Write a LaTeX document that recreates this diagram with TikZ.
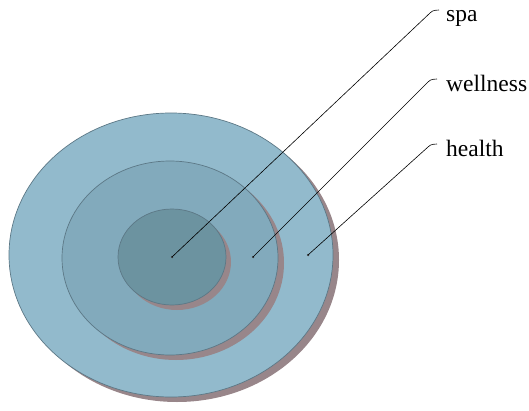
\documentclass[tikz,border=0pt]{standalone}
\usepackage{fontspec}
\setmainfont{Liberation Serif}
\usetikzlibrary{positioning,calc}
\definecolor{ringout}{RGB}{146,186,204}
\definecolor{ringmid}{RGB}{130,170,188}
\definecolor{ringin}{RGB}{108,147,160}
\definecolor{rimline}{RGB}{92,120,134}
\definecolor{shade}{RGB}{152,134,138}
\tikzset{
  ring/.style={draw=rimline,line width=0.7pt},
  ringshadow/.style={fill=shade,draw=none},
  leader/.style={draw=black,line width=0.6pt},
  tag/.style={anchor=west,inner sep=0pt,font=\fontsize{23.5}{28}\selectfont},
  dot/.style={circle,fill=black!80,inner sep=0pt,minimum size=2.5pt}
}
\begin{document}
\begin{tikzpicture}[x=1pt,y=1pt]
    \useasboundingbox (0,0) rectangle (529,410);
    % shadows, then rings
    \fill[ringshadow] (177,150) ellipse [x radius=162,y radius=142];
    \draw[ring,fill=ringout] (171,155) ellipse [x radius=162,y radius=142];
    \fill[ringshadow] (176,147) ellipse [x radius=108,y radius=97];
    \draw[ring,fill=ringmid] (170,152) ellipse [x radius=108,y radius=97];
    \fill[ringshadow] (177,148) ellipse [x radius=54,y radius=48];
    \draw[ring,fill=ringin] (172,153) ellipse [x radius=54,y radius=48];
    % points
    \node[dot] (pspa) at (172,153) {};
    \node[dot] (pwell) at (253,153) {};
    \node[dot] (phealth) at (308,155) {};
    % labels
    \node[tag] (spa) at (446,392) {spa};
    \node[tag] (well) at (446,327) {wellness};
    \node[tag] (health) at (446,262) {health};
    \draw[leader] (pspa.center) -- ($(spa.west)+(-16,5)$) .. controls +(3,3) and +(-3,0) .. ($(spa.west)+(-7,8)$);
    \draw[leader] (pwell.center) -- ($(well.west)+(-18,1)$) .. controls +(3,3) and +(-3,0) .. ($(well.west)+(-9,4)$);
    \draw[leader] (phealth.center) -- ($(health.west)+(-18,1)$) .. controls +(3,3) and +(-3,0) .. ($(health.west)+(-9,4)$);
\end{tikzpicture}
\end{document}
